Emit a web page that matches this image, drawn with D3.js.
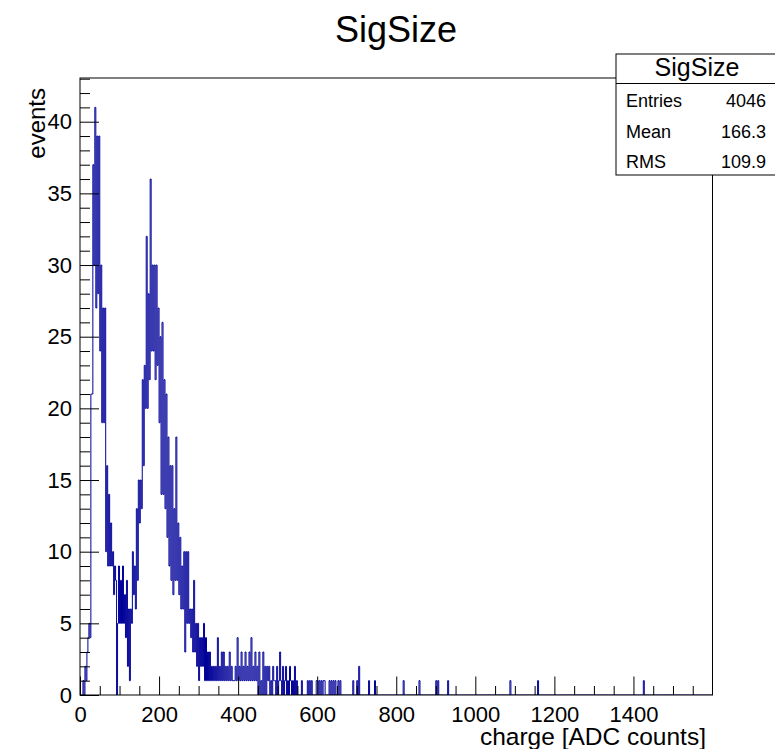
<!DOCTYPE html>
<html>
<head>
<meta charset="utf-8">
<script src="https://cdn.jsdelivr.net/npm/d3@7/dist/d3.min.js"></script>
<style>
  body { margin: 0; background: #fff; }
  #chart svg { display: block; font-family: 'Liberation Sans', Arial, Helvetica, sans-serif; }
</style>
</head>
<body>
<div id="chart"></div>
<script>
// Histograma SigSize (carga en cuentas ADC)
const BIN_WIDTH = 2.5;
const X_RANGE = [0, 1600];
const Y_MAX = 43.05;

// Contenido de los bins desde 0, zona densa
const denseCounts = [
  0, 0, 0, 1, 0, 2, 1, 3, 4, 5, 4, 21, 21, 37, 30, 41, 27, 39, 28, 39,
  24, 30, 19, 27, 19, 27, 10, 16, 9, 14, 9, 12, 9, 10, 7, 9, 8, 0, 5, 9,
  5, 8, 5, 9, 5, 7, 4, 8, 2, 6, 1, 6, 5, 10, 7, 9, 6, 13, 8, 15,
  12, 15, 13, 22, 16, 23, 20, 32, 20, 28, 22, 36, 24, 30, 24, 30, 22, 30, 23, 27,
  19, 25, 14, 26, 14, 22, 13, 21, 11, 18, 9, 16, 8, 16, 7, 13, 8, 18, 8, 12,
  7, 11, 6, 9, 6, 10, 3, 10, 5, 10, 5, 6, 4, 6, 3, 8, 3, 5, 2, 5,
  1, 4, 2, 4, 2, 5, 1, 4, 1, 3, 1, 3, 1, 2, 1, 2, 1, 2, 1, 4,
  1, 2, 1, 3, 1, 3, 1, 2, 1, 2, 1, 3, 1, 2, 1, 1, 1, 2, 1, 4,
  1, 2, 1, 3, 1, 2, 1, 3, 1, 2, 1, 3, 1, 4, 1, 2, 1, 3, 1, 2,
  0, 3, 0, 1, 0, 3, 0, 2, 0, 2, 1, 2, 0, 1, 0, 2, 1, 1, 0, 2,
  0, 1, 3, 1, 0, 2, 0, 1, 2, 0, 1, 0, 2, 1, 0, 1, 0, 2, 0, 1,
  0
];

// Entradas sueltas de la cola
const tailCharge = [561, 576, 581, 586, 598, 602, 607, 611, 615, 619, 632, 636, 642, 647, 653, 659,
  690, 700, 705, 730, 746, 819, 859, 900, 905, 930, 1089, 1158, 1426];
const tailCounts = [1, 1, 1, 1, 1, 1, 1, 1, 1, 1, 1, 1, 1, 1, 1, 1,
  1, 1, 2, 1, 1, 1, 1, 1, 1, 1, 1, 1, 1];

// Ticks
const xMajorTicks = [0, 200, 400, 600, 800, 1000, 1200, 1400];
const yMajorTicks = [0, 5, 10, 15, 20, 25, 30, 35, 40];

// Caja de estadisticas
const statsTitle = 'SigSize';
const statsLabels = ['Entries', 'Mean', 'RMS'];
const statsValues = ['4046', '166.3', '109.9'];

const FONT = "'Liberation Sans', Arial, Helvetica, sans-serif";
const COLOR_HIST = '#000099';

//Valores iniciales de altura, anchura y margenes
let W = 775, H = 749;
let margin = {top: 78, right: 62.5, bottom: 54, left: 80},
    width = W - margin.left - margin.right,
    height = H - margin.top - margin.bottom;

let root = d3.select('#chart')
    .append('svg')
        .attr('width', W)
        .attr('height', H);

let svg = root.append('g')
    .attr('transform', 'translate(' + margin.left + ',' + margin.top + ')');

let x = d3.scaleLinear().domain(X_RANGE).range([0, width]);
let y = d3.scaleLinear().domain([0, Y_MAX]).range([height, 0]);

//Bins completos
let nBins = Math.round((X_RANGE[1] - X_RANGE[0]) / BIN_WIDTH);
let counts = new Array(nBins).fill(0);
denseCounts.forEach(function(c, i) { counts[i] = c; });
tailCharge.forEach(function(q, j) {
    counts[Math.floor(q / BIN_WIDTH)] += tailCounts[j];
});

let points = counts.map(function(c, i) { return [X_RANGE[0] + i * BIN_WIDTH, c]; });
points.push([X_RANGE[1], counts[nBins - 1]]);

svg.append('clipPath').attr('id', 'frame-clip')
    .append('rect').attr('width', width).attr('height', height);

svg.append('path')
    .datum(points)
    .attr('clip-path', 'url(#frame-clip)')
    .attr('fill', 'none')
    .attr('stroke', COLOR_HIST)
    .attr('stroke-width', 1)
    .attr('d', d3.line()
        .x(function(d) { return x(d[0]); })
        .y(function(d) { return y(d[1]); })
        .curve(d3.curveStepAfter));

//Ejes (ticks hacia dentro, estilo ROOT)
let xMinor = d3.range(0, 1551, 50).filter(function(v) { return v % 200 != 0; });
let yMinor = d3.range(0, 44, 1).filter(function(v) { return v % 5 != 0; });

let xAxis = function(g) {
    g.call(d3.axisBottom(x).tickValues(xMajorTicks).tickSize(-18.5).tickPadding(11).tickFormat(d3.format('d')));
    g.select('.domain').remove();
    g.selectAll('text').attr('font-size', 22).attr('font-family', FONT).attr('fill', '#000');
};
let xAxisMinor = function(g) {
    g.call(d3.axisBottom(x).tickValues(xMinor).tickSize(-9).tickFormat(''));
    g.select('.domain').remove();
};
let yAxis = function(g) {
    g.call(d3.axisLeft(y).tickValues(yMajorTicks).tickSize(-19).tickPadding(8).tickFormat(d3.format('d')));
    g.select('.domain').remove();
    g.selectAll('text').attr('font-size', 22).attr('font-family', FONT).attr('fill', '#000');
};
let yAxisMinor = function(g) {
    g.call(d3.axisLeft(y).tickValues(yMinor).tickSize(-10).tickFormat(''));
    g.select('.domain').remove();
};

svg.append('g').attr('transform', 'translate(0,' + height + ')').call(xAxisMinor);
svg.append('g').attr('transform', 'translate(0,' + height + ')').call(xAxis);
svg.append('g').call(yAxisMinor);
svg.append('g').call(yAxis);

//Marco
svg.append('rect')
    .attr('width', width)
    .attr('height', height)
    .attr('fill', 'none')
    .attr('stroke', '#000')
    .attr('stroke-width', 1);

//Titulos
root.append('text')
    .attr('x', 396).attr('y', 42)
    .attr('text-anchor', 'middle')
    .attr('font-size', 36)
    .text('SigSize');

root.append('text')
    .attr('x', 706).attr('y', 745)
    .attr('text-anchor', 'end')
    .attr('font-size', 24.5)
    .text('charge [ADC counts]');

root.append('text')
    .attr('transform', 'translate(45,88) rotate(-90)')
    .attr('text-anchor', 'end')
    .attr('font-size', 24)
    .text('events');

//Caja de estadisticas
let stats = root.append('g');
stats.append('rect')
    .attr('x', 616).attr('y', 54)
    .attr('width', 175).attr('height', 121)
    .attr('fill', '#fff')
    .attr('stroke', '#000');
stats.append('line')
    .attr('x1', 616).attr('x2', 791)
    .attr('y1', 83.5).attr('y2', 83.5)
    .attr('stroke', '#000');
stats.append('text')
    .attr('x', 697).attr('y', 76)
    .attr('text-anchor', 'middle')
    .attr('font-size', 25)
    .text(statsTitle);
statsLabels.forEach(function(l, i) {
    stats.append('text')
        .attr('x', 626).attr('y', 107 + i * 30.5)
        .attr('font-size', 18)
        .text(l);
    stats.append('text')
        .attr('x', 766).attr('y', 107 + i * 30.5)
        .attr('text-anchor', 'end')
        .attr('font-size', 18)
        .text(statsValues[i]);
});
</script>
</body>
</html>
